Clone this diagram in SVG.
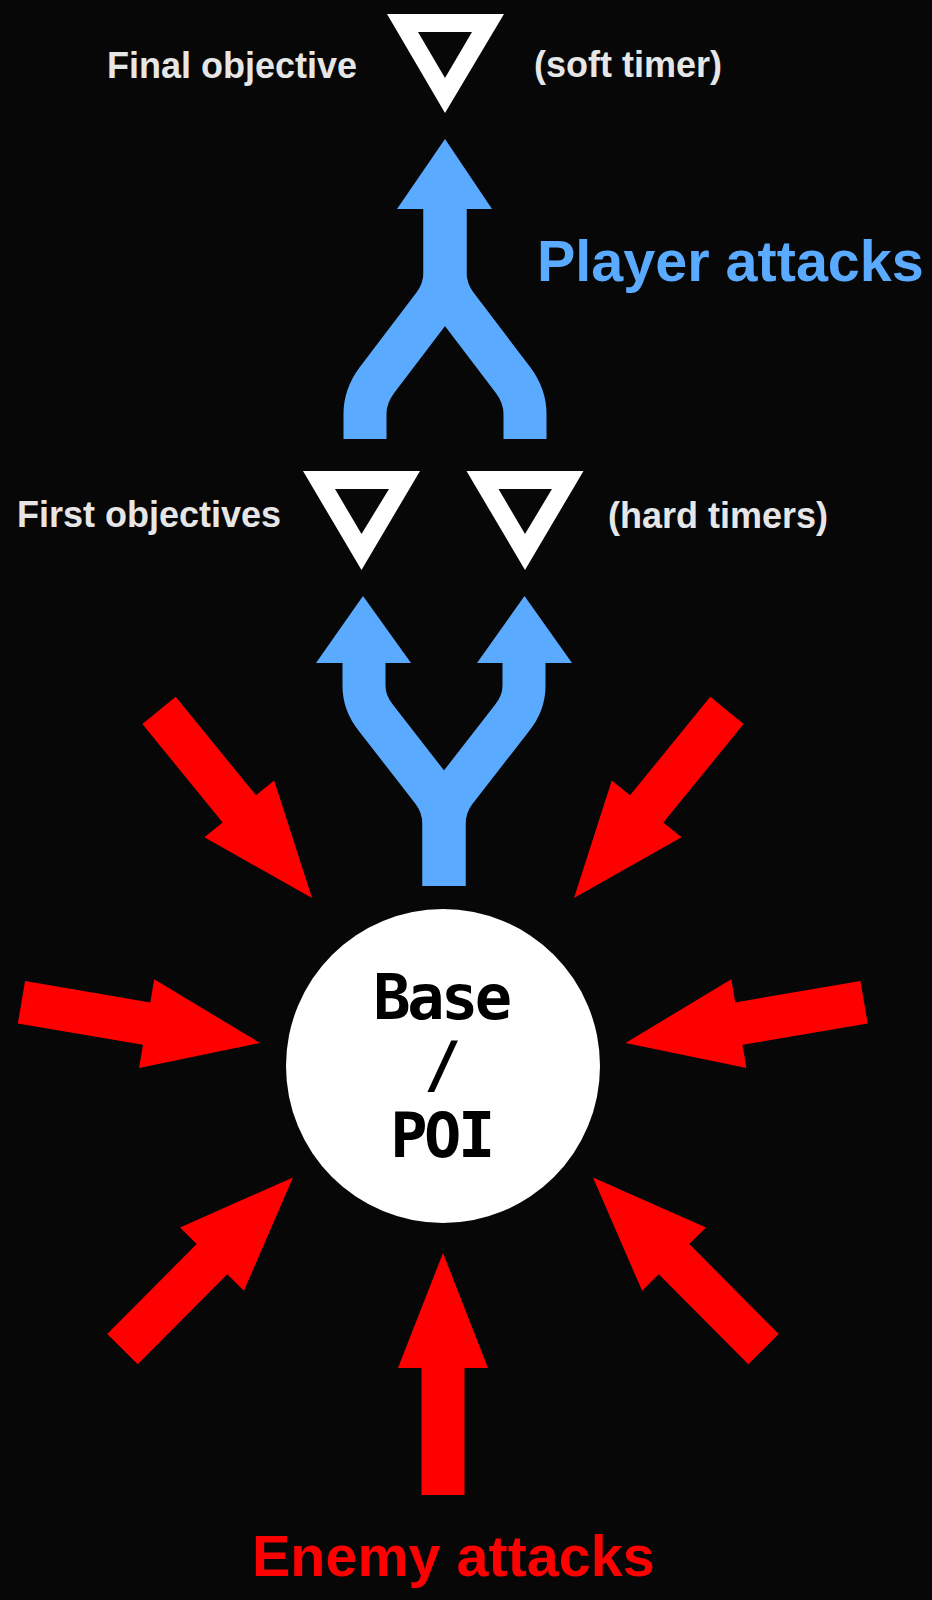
<svg xmlns="http://www.w3.org/2000/svg" xmlns:xlink="http://www.w3.org/1999/xlink" width="932" height="1600" viewBox="0 0 932 1600">
<style>
.lbl{font-family:"Liberation Sans",Arial,sans-serif;font-weight:bold;font-size:36px;fill:#e6e6e6}
.big{font-family:"Liberation Sans",Arial,sans-serif;font-weight:bold;font-size:57.5px}
.tri{fill:#ffffff;fill-rule:evenodd}
.blue{fill:none;stroke:#5aabff;stroke-width:43;stroke-linecap:butt}
.bhead{fill:#5aabff}
.red{fill:#ff0000}
.poi{font-family:"DejaVu Sans Mono",monospace;font-weight:bold;font-size:62px;letter-spacing:-3.5px;fill:#000;text-anchor:middle}
</style>
<defs>
<path id="ra" d="M0,0 L-115,-45 L-115,-21.5 L-242,-21.5 L-242,21.5 L-115,21.5 L-115,45 Z"/>
</defs>
<rect width="932" height="1600" fill="#070707"/>

<g id="connectors">
  <g id="player-attacks-upper">
    <path class="blue" d="M445,206 L445,272 Q445,290 434,305 L377,380 Q365,396 365,414 L365,439"/>
    <path class="blue" d="M445,206 L445,272 Q445,290 456,305 L513,380 Q525,396 525,414 L525,439"/>
    <polygon class="bhead" points="397,209 492,209 445,139"/>
  </g>
  <g id="player-attacks-lower">
    <path class="blue" d="M444,886 L444,825 Q444,805 432,790 L376,718 Q364,703 364,686 L364,660"/>
    <path class="blue" d="M444,886 L444,825 Q444,805 456,790 L512,718 Q524,703 524,686 L524,660"/>
    <polygon class="bhead" points="316,663 411,663 363,596"/>
    <polygon class="bhead" points="477,663 572,663 524.5,596"/>
  </g>
  <g id="enemy-attacks">
    <use xlink:href="#ra" class="red" transform="translate(312,898) rotate(50.8)"/>
    <use xlink:href="#ra" class="red" transform="translate(574,898) rotate(129.2)"/>
    <use xlink:href="#ra" class="red" transform="translate(260,1043) rotate(9.7)"/>
    <use xlink:href="#ra" class="red" transform="translate(625.5,1043) rotate(170.3)"/>
    <use xlink:href="#ra" class="red" transform="translate(293,1177.5) rotate(-45.2)"/>
    <use xlink:href="#ra" class="red" transform="translate(593,1177.5) rotate(-134.8)"/>
    <use xlink:href="#ra" class="red" transform="translate(443,1253) rotate(-90)"/>
  </g>
</g>

<g id="final-objective">
  <path class="tri" d="M387,14 L504,14 L445,113 Z M418,32 L445,78 L472,32 Z"/>
  <text class="lbl" x="107" y="78">Final objective</text>
  <text class="lbl" x="534" y="77">(soft timer)</text>
</g>

<g id="player-attacks-label">
  <text class="big" x="537" y="281" fill="#5aabff">Player attacks</text>
</g>

<g id="first-objective-left">
  <path class="tri" d="M303,471 L420,471 L361.5,570 Z M335,489 L361.5,534 L389,489 Z"/>
  <text class="lbl" x="17" y="527">First objectives</text>
</g>
<g id="first-objective-right">
  <path class="tri" d="M466.5,471 L583.5,471 L525,570 Z M498.5,489 L525,534 L552,489 Z"/>
  <text class="lbl" x="608" y="528">(hard timers)</text>
</g>

<g id="base-poi">
  <circle cx="443" cy="1066" r="157" fill="#ffffff"/>
  <text class="poi" x="441" y="1019">Base</text>
  <text class="poi" x="441" y="1086">/</text>
  <text class="poi" x="441" y="1157">POI</text>
</g>

<g id="enemy-attacks-label">
  <text class="big" x="252" y="1576" fill="#ff0000" font-size="56">Enemy attacks</text>
</g>
</svg>
